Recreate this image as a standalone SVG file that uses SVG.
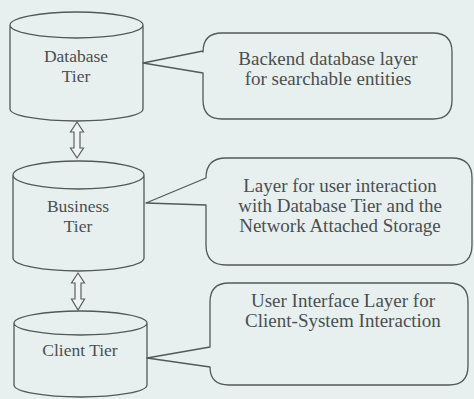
<svg xmlns="http://www.w3.org/2000/svg" width="474" height="399" viewBox="0 0 474 399">
  <defs>
    <style>
      .bg { fill: #e8f0ef; }
      .shape { fill: none; stroke: #535858; stroke-width: 1.3; stroke-linejoin: round; }
      .arrow { fill: #eef3f3; stroke: #5a5f5f; stroke-width: 1.2; stroke-linejoin: miter; }
      .lbl { font-family: "Liberation Serif", "Times New Roman", serif; font-size: 17.5px; fill: #4a4f4f; text-anchor: middle; }
      .note { font-family: "Liberation Serif", "Times New Roman", serif; font-size: 19px; fill: #4a4f4f; text-anchor: middle; }
    </style>
  </defs>

  <rect class="bg" x="0" y="0" width="474" height="399"/>

  <!-- Tier cylinders -->
  <g id="database-tier">
    <path class="shape" d="M10,25 A66.5,13 0 0 1 143,25 A66.5,13 0 0 1 10,25 L10,109 A66.5,12 0 0 0 143,109 L143,25"/>
    <text class="lbl" x="76" y="62">Database</text>
    <text class="lbl" x="76" y="82">Tier</text>
  </g>

  <g id="business-tier">
    <path class="shape" d="M13,175 A65.5,14 0 0 1 144,175 A65.5,14 0 0 1 13,175 L13,258 A65.5,13 0 0 0 144,258 L144,175"/>
    <text class="lbl" x="78" y="212">Business</text>
    <text class="lbl" x="78" y="232">Tier</text>
  </g>

  <g id="client-tier">
    <path class="shape" d="M14,323 A66.5,12 0 0 1 147,323 A66.5,12 0 0 1 14,323 L14,385 A66.5,12 0 0 0 147,385 L147,323"/>
    <text class="lbl" x="80" y="356">Client Tier</text>
  </g>

  <!-- Description callouts -->
  <g id="database-note">
    <path class="shape" d="M143,63 L203,51 L203,52 Q203,33 222,33 L433,33 Q452,33 452,52 L452,100 Q452,119 433,119 L222,119 Q203,119 203,100 L203,73 Z"/>
    <text class="note" x="328" y="65">Backend database layer</text>
    <text class="note" x="328" y="85">for searchable entities</text>
  </g>

  <g id="business-note">
    <path class="shape" d="M146,203 L206,178 Q206,158 226,158 L452,158 Q472,158 472,178 L472,245 Q472,265 452,265 L226,265 Q206,265 206,245 L206,205 Z"/>
    <text class="note" x="340" y="192">Layer for user interaction</text>
    <text class="note" x="340" y="212">with Database Tier and the</text>
    <text class="note" x="340" y="232">Network Attached Storage</text>
  </g>

  <g id="client-note">
    <path class="shape" d="M147,358 L210,347 L210,302 Q210,283 229,283 L449,283 Q468,283 468,302 L468,366 Q468,385 449,385 L229,385 Q210,385 210,367 Z"/>
    <text class="note" x="343" y="307">User Interface Layer for</text>
    <text class="note" x="343" y="327">Client-System Interaction</text>
  </g>

  <!-- Connectors: double-headed block arrows between tiers -->
  <g id="connectors">
    <path class="arrow" d="M77,122 L83.5,132 L80,132 L80,148 L83.5,148 L77,158 L70.5,148 L74,148 L74,132 L70.5,132 Z"/>
    <path class="arrow" d="M78,273 L84.5,283 L81,283 L81,299 L84.5,299 L78,310 L71.5,299 L75,299 L75,283 L71.5,283 Z"/>
  </g>
</svg>
